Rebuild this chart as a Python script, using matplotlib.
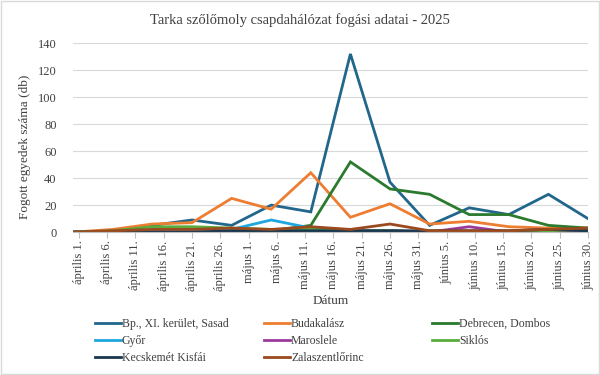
import matplotlib
matplotlib.use("Agg")
import matplotlib.pyplot as plt
import numpy as np
import datetime as dt

# weekly trap readings (Mondays), 2025
dates = [dt.date(2025, 3, 31) + dt.timedelta(days=7 * i) for i in range(14)]

series_names = ["Bp., XI. kerület, Sasad", "Budakalász", "Debrecen, Dombos",
                "Győr", "Maroslele", "Siklós", "Kecskemét Kisfái", "Zalaszentlőrinc"]
bp = [0, 1, 5, 9, 5, 20, 15, 132, 37, 5, 18, 13, 28, 10]
budakalasz = [0, 2, 6, 7, 25, 17, 44, 11, 21, 6, 8, 4, 3, 3]
debrecen = [0, 0, 1, 1, 1, 1, 5, 52, 32, 28, 13, 13, 5, 3]
gyor = [0, 0, 1, 2, 2, 9, 3, 1, 1, 0, 0, 0, 1, 1]
maroslele = [0, 0, 0, 0, 0, 0, 0, 1, 1, 0, 4, 0, 0, 1]
siklos = [0, 1, 4, 4, 3, 2, 2, 1, 1, 0, 0, 0, 1, 2]
kecskemet = [0, 0, 0, 0, 1, 1, 1, 1, 1, 1, 1, 1, 2, 1]
zala = [0, 1, 2, 2, 3, 2, 4, 2, 6, 1, 1, 1, 2, 3]
colors = ["#22668c", "#ed7d31", "#2b7a2e", "#1ea6de", "#9b3a9b", "#5aad3c", "#19374f", "#9a4a1e"]

tick_dates = [dt.date(2025, 4, 1) + dt.timedelta(days=5 * k) for k in range(19)]
tick_labels = ["április 1.", "április 6.", "április 11.", "április 16.", "április 21.",
               "április 26.", "május 1.", "május 6.", "május 11.", "május 16.",
               "május 21.", "május 26.", "május 31.", "június 5.", "június 10.",
               "június 15.", "június 20.", "június 25.", "június 30."]

plt.rcParams['font.family'] = ['Liberation Serif', 'DejaVu Serif']
txt = "#404040"

fig = plt.figure(figsize=(6, 3.75), dpi=100)
ax = fig.add_axes([0.122, 0.381, 0.858, 0.504])

all_data = [bp, budakalasz, debrecen, gyor, maroslele, siklos, kecskemet, zala]
lines = []
for name, vals, c in zip(series_names, all_data, colors):
    l, = ax.plot(dates, vals, color=c, lw=2.0, label=name, solid_joinstyle="miter")
    lines.append(l)

ax.set_ylim(0, 140)
ax.set_yticks(np.arange(0, 141, 20))
ax.set_xlim(dt.date(2025, 3, 31), dt.date(2025, 6, 30))
ax.set_xticks(tick_dates)
ax.set_xticklabels(tick_labels, rotation=90, fontsize=9, color=txt)
ax.tick_params(axis="y", length=0, labelsize=9, labelcolor=txt, pad=12)
ax.tick_params(axis="x", length=4, color="#bfbfbf", pad=2)
ax.grid(axis="y", color="#d9d9d9", lw=0.8)
ax.set_axisbelow(True)
for s in ["top", "right", "left"]:
    ax.spines[s].set_visible(False)
ax.spines["bottom"].set_color("#bfbfbf")

ax.set_ylabel("Fogott egyedek száma (db)", fontsize=9.5, color=txt)
ax.yaxis.set_label_coords(-0.082, 0.45)
ax.set_xlabel("Dátum", fontsize=9.5, color=txt, labelpad=3)
fig.suptitle("Tarka szőlőmoly csapdahálózat fogási adatai - 2025", fontsize=10.5,
             color=txt, y=0.965)

cols = [[0, 3, 6], [1, 4, 7], [2, 5]]
xs = [0.15, 0.432, 0.712]
for idx, x in zip(cols, xs):
    fig.legend([lines[i] for i in idx], [series_names[i] for i in idx],
               loc="upper left", bbox_to_anchor=(x, 0.165), frameon=False,
               fontsize=8.5, handlelength=2.2, handletextpad=0.1,
               labelspacing=0.45, borderaxespad=0, labelcolor=txt)

fig.patches.append(plt.Rectangle((0.002, 0.003), 0.996, 0.994, transform=fig.transFigure,
                                 fill=False, edgecolor="#d9d9d9", lw=1))

fig.savefig("out.png", dpi=100)
